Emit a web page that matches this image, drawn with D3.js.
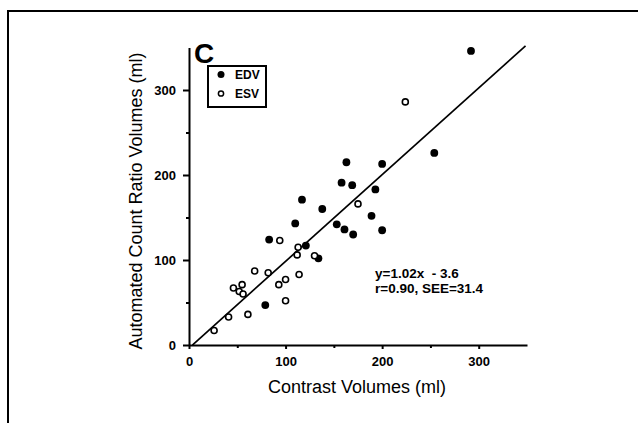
<!DOCTYPE html>
<html>
<head>
<meta charset="utf-8">
<script src="https://cdn.jsdelivr.net/npm/d3@7"></script>
<style>
  body { margin: 0; background: #fff; }
  svg { display: block; font-family: "Liberation Sans", Arial, Helvetica, sans-serif; }
  .axis path, .axis line { stroke: #000; stroke-width: 2; }
  .axis text { font-size: 13px; font-weight: bold; fill: #000; }
  .fit-text { white-space: pre; }
</style>
</head>
<body>
<svg id="chart" width="638" height="423"></svg>
<script>
// EDV (filled) points, contrast vs automated count ratio (ml)
const edvX = [292, 254, 163, 200, 158, 169, 193, 117, 138, 110, 153, 189, 161, 200, 170, 83, 121, 134, 79];
const edvY = [346, 226, 215, 213, 191, 188, 183, 171, 160, 143, 142, 152, 136, 135, 130, 124, 117, 102, 47];
// ESV (open) points
const esvX = [224, 175, 94, 113, 112, 130, 68, 82, 114, 100, 93, 46, 55, 52, 56, 100, 61, 41, 26];
const esvY = [286, 166, 123, 115, 106, 105, 87, 85, 83, 77, 71, 67, 71, 63, 60, 52, 36, 33, 17];

// regression y = 1.02x - 3.6, drawn over this x span
const fitSlope = 1.02;
const fitIntercept = -3.6;
const fitSpan = [3.5, 348.5];

const majorTicks = [0, 100, 200, 300];
const minorTicks = [50, 150, 250];
const fitLines = ['y=1.02x  - 3.6', 'r=0.90, SEE=31.4'];
const legendItems = ['EDV', 'ESV'];

const svg = d3.select('#chart');

// page frame (runs off the right and bottom edges)
svg.append('rect')
  .attr('x', 8).attr('y', 11)
  .attr('width', 660).attr('height', 440)
  .attr('fill', 'none').attr('stroke', '#000').attr('stroke-width', 2);

const xScale = d3.scaleLinear().domain([0, 350]).range([189, 527]);
const yScale = d3.scaleLinear().domain([0, 350]).range([345, 47.5]);

// x axis
svg.append('g')
  .attr('class', 'axis x-axis')
  .attr('transform', `translate(0,${yScale(0)})`)
  .call(d3.axisBottom(xScale).tickValues(majorTicks).tickSize(4).tickPadding(8).tickSizeOuter(0));
svg.append('g')
  .attr('class', 'axis')
  .attr('transform', `translate(0,${yScale(0)})`)
  .call(d3.axisBottom(xScale).tickValues(minorTicks).tickSize(3).tickFormat('').tickSizeOuter(0))
  .select('.domain').remove();

// y axis
svg.append('g')
  .attr('class', 'axis y-axis')
  .attr('transform', `translate(${xScale(0)},0)`)
  .call(d3.axisLeft(yScale).tickValues(majorTicks).tickSize(6).tickPadding(7).tickSizeOuter(0));
svg.append('g')
  .attr('class', 'axis')
  .attr('transform', `translate(${xScale(0)},0)`)
  .call(d3.axisLeft(yScale).tickValues(minorTicks).tickSize(3).tickFormat('').tickSizeOuter(0))
  .select('.domain').remove();

// axis titles
svg.append('text')
  .attr('x', 357).attr('y', 393)
  .attr('text-anchor', 'middle')
  .attr('font-size', 18)
  .text('Contrast Volumes (ml)');

svg.append('text')
  .attr('transform', 'translate(142,201) rotate(-90)')
  .attr('text-anchor', 'middle')
  .attr('font-size', 18)
  .text('Automated Count Ratio Volumes (ml)');

// panel letter
svg.append('text')
  .attr('x', 194).attr('y', 63)
  .attr('font-size', 28).attr('font-weight', 'bold')
  .text('C');

// regression line
const line = d3.line()
  .x(d => xScale(d))
  .y(d => yScale(fitSlope * d + fitIntercept));
svg.append('path')
  .attr('d', line(fitSpan))
  .attr('fill', 'none').attr('stroke', '#000').attr('stroke-width', 1.7);

// points
const edv = edvX.map((x, i) => ({ x, y: edvY[i] }));
const esv = esvX.map((x, i) => ({ x, y: esvY[i] }));

svg.append('g').selectAll('circle')
  .data(edv).join('circle')
  .attr('cx', d => xScale(d.x))
  .attr('cy', d => yScale(d.y))
  .attr('r', 3.9)
  .attr('fill', '#000');

svg.append('g').selectAll('circle')
  .data(esv).join('circle')
  .attr('cx', d => xScale(d.x))
  .attr('cy', d => yScale(d.y))
  .attr('r', 3)
  .attr('fill', '#fff').attr('stroke', '#000').attr('stroke-width', 1.6);

// fit statistics
svg.append('g').selectAll('text')
  .data(fitLines).join('text')
  .attr('class', 'fit-text')
  .attr('x', 375)
  .attr('y', (d, i) => 278 + i * 15)
  .attr('font-size', 13.5)
  .attr('font-weight', 'bold')
  .text(d => d);

// legend
const legend = svg.append('g');
legend.append('rect')
  .attr('x', 208).attr('y', 66)
  .attr('width', 58).attr('height', 41)
  .attr('fill', '#fff').attr('stroke', '#000').attr('stroke-width', 2);
legendItems.forEach((name, i) => {
  const cy = 74.5 + i * 19;
  legend.append('circle')
    .attr('cx', 221).attr('cy', cy)
    .attr('r', i === 0 ? 3.5 : 2.6)
    .attr('fill', i === 0 ? '#000' : '#fff')
    .attr('stroke', '#000').attr('stroke-width', i === 0 ? 0 : 1.5);
  legend.append('text')
    .attr('x', 235).attr('y', cy + 4.5)
    .attr('font-size', 12).attr('font-weight', 'bold')
    .text(name);
});
</script>
</body>
</html>
